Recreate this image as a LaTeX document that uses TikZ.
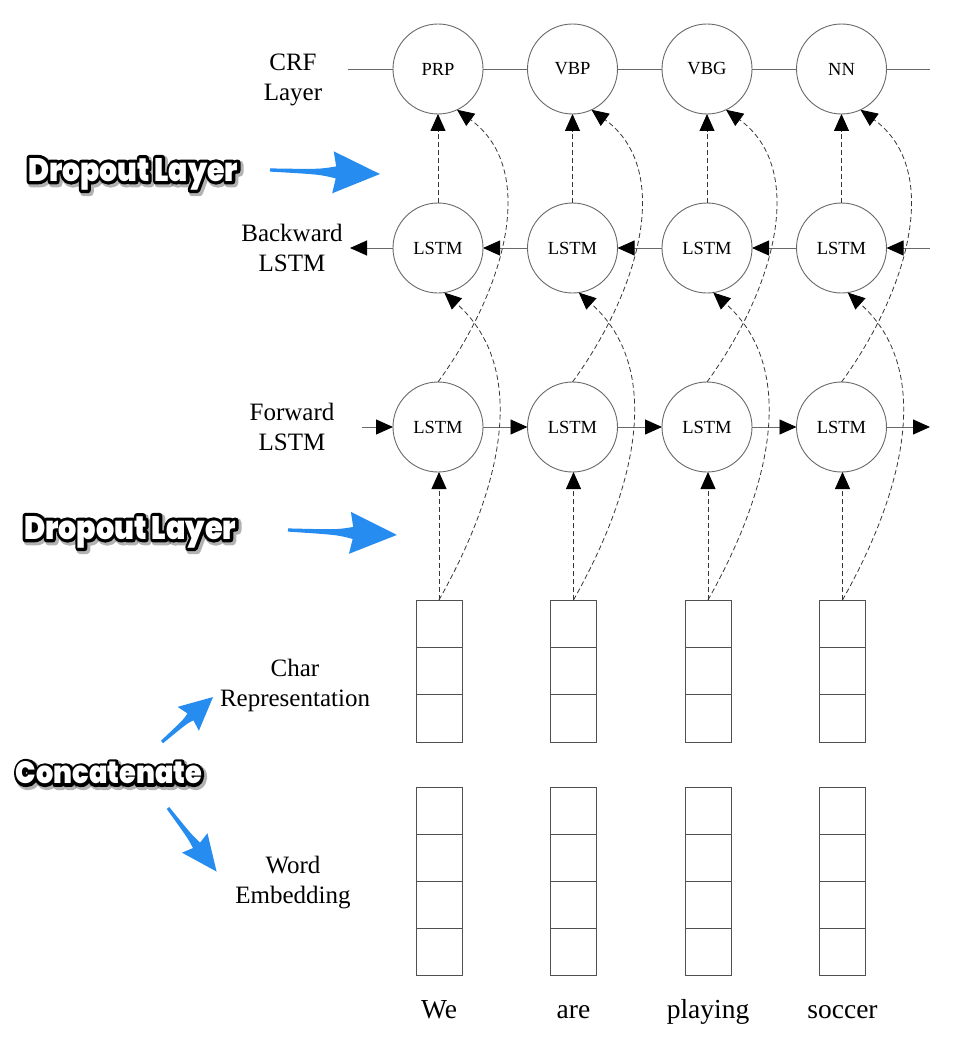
\documentclass[tikz,border=0pt]{standalone}
\usepackage{fontspec}
\setmainfont{Liberation Serif}
\IfFontExistsTF{Poppins Black}{\newfontfamily\dropfont{Poppins Black}}{%
  \IfFontExistsTF{Poppins ExtraBold}{\newfontfamily\dropfont{Poppins ExtraBold}}{%
    \newfontfamily\dropfont{Poppins}[UprightFont=*-Bold]}}
\usetikzlibrary{arrows.meta,calc}
\definecolor{arrowblue}{RGB}{38,140,240}
\definecolor{linegray}{RGB}{105,105,105}
\definecolor{boxgray}{RGB}{80,80,80}
\definecolor{dashgray}{RGB}{55,55,55}
\newcommand\dstroke[4]{\resizebox{#1}{#2}{\special{pdf:literal direct 2 Tr #3 w 0 0 0 RG 1 j}#4\special{pdf:literal direct 0 Tr}}}
\newcommand\dfill[3]{\resizebox{#1}{#2}{#3}}
\tikzset{
  pics/barrow/.style n args={4}{code={
    \fill[arrowblue] (0,-1.6) .. controls ({#1*0.45},-2.6) .. ({#1-#2},-#4) -- ({#1-#2-3},-#3) -- (#1,0) -- ({#1-#2-3},#3) -- ({#1-#2},#4) .. controls ({#1*0.45},2.6) .. (0,1.6) -- cycle;
  }},
}
\begin{document}
\begin{tikzpicture}[x=1pt,y=-1pt,
  every node/.style={inner sep=0pt,outer sep=0pt},
  cell/.style={draw=linegray,line width=0.9pt,circle,minimum size=90pt,font=\fontsize{18.5}{20}\selectfont},
  lab/.style={align=center,font=\fontsize{25}{30}\selectfont},
  word/.style={font=\fontsize{27.5}{30}\selectfont},
  vecbox/.style={draw=boxgray,line width=0.9pt,minimum width=46pt},
  boxline/.style={draw=boxgray,line width=0.9pt},
  conn/.style={draw=linegray,line width=0.9pt},
  dsh/.style={draw=dashgray,line width=0.8pt,dash pattern=on 5pt off 3pt},
  tip/.style={-{Triangle[length=17pt,width=15pt,black]}},
  dropshadow/.style={font=\dropfont\fontsize{30}{32}\selectfont,text=black,text opacity=0.3},
  dropout/.style={font=\dropfont\fontsize{30}{32}\selectfont,text=black},
  dropin/.style={font=\dropfont\fontsize{30}{32}\selectfont,text=white}
]
\fill[white] (0,0) rectangle (956,1054);
\useasboundingbox (0,0) rectangle (956,1054);

% layer labels
\node[lab] (lcrf) at (293,80) {CRF\\Layer};
\node[lab] (lbw) at (292,248) {Backward\\LSTM};
\node[lab] (lfw) at (292,427) {Forward\\LSTM};
\node[lab] (lch) at (295,685) {Char\\Representation};
\node[lab] (lwe) at (293,883) {Word\\Embedding};

% columns
\foreach \i/\x/\t/\w in {1/438/PRP/We,2/572.5/VBP/are,3/707/VBG/playing,4/841.5/NN/soccer}{
  \node[cell] (crf\i) at (\x,69) {\t};
  \node[cell] (bw\i) at (\x,248) {LSTM};
  \node[cell] (fw\i) at (\x,427) {LSTM};
  \node[vecbox,minimum height=142pt] (ch\i) at (\x+1,671) {};
  \node[vecbox,minimum height=188pt] (we\i) at (\x+1,881) {};
  \node[word,anchor=base] (wd\i) at (\x+1,1018) {\w};
}

% cell separators
\foreach \i in {1,...,4}{
  \foreach \f in {1/3,2/3}{
    \draw[boxline] ($(ch\i.north west)!\f!(ch\i.south west)$) -- ($(ch\i.north east)!\f!(ch\i.south east)$);
  }
  \foreach \f in {0.25,0.5,0.75}{
    \draw[boxline] ($(we\i.north west)!\f!(we\i.south west)$) -- ($(we\i.north east)!\f!(we\i.south east)$);
  }
}

% horizontal chains
\coordinate (crfL) at (348,69);
\coordinate (crfR) at (930,69);
\coordinate (bwR) at (930,248);
\coordinate (bwL) at (350,248);
\coordinate (fwL) at (362,427);
\coordinate (fwR) at (930,427);

\draw[conn] (crfL) -- (crf1) (crf1) -- (crf2) (crf2) -- (crf3) (crf3) -- (crf4) (crf4) -- (crfR);
\draw[conn,tip] (bwR) -- (bw4);
\draw[conn,tip] (bw4) -- (bw3);
\draw[conn,tip] (bw3) -- (bw2);
\draw[conn,tip] (bw2) -- (bw1);
\draw[conn,tip] (bw1) -- (bwL);
\draw[conn,tip] (fwL) -- (fw1);
\draw[conn,tip] (fw1) -- (fw2);
\draw[conn,tip] (fw2) -- (fw3);
\draw[conn,tip] (fw3) -- (fw4);
\draw[conn,tip] (fw4) -- (fwR);

% dashed connections
\foreach \i in {1,...,4}{
  \draw[dsh,tip] (bw\i) -- (crf\i);
  \draw[dsh,tip] (ch\i.north) -- (ch\i.north |- fw\i.south);
  \draw[dsh,tip] (fw\i.north) .. controls +(67,-92) and +(82,60) .. (crf\i.-65);
  \draw[dsh,tip] (ch\i.north) .. controls +(62,-110) and +(86,77) .. (bw\i.-82);
}

% annotations
\node[dropshadow] (dl1s) at (135,176) {\dstroke{210pt}{23pt}{8}{Dropout Layer}};
\node[dropout] (dl1o) at (133,174) {\dstroke{210pt}{23pt}{6}{Dropout Layer}};
\node[dropin] (dl1) at (133,174) {\dfill{210pt}{23pt}{Dropout Layer}};
\node[dropshadow] (dl2s) at (132,534) {\dstroke{212pt}{23pt}{8}{Dropout Layer}};
\node[dropout] (dl2o) at (130,532) {\dstroke{212pt}{23pt}{6}{Dropout Layer}};
\node[dropin] (dl2) at (130,532) {\dfill{212pt}{23pt}{Dropout Layer}};
\node[dropshadow] (ccs) at (111,775) {\dstroke{186pt}{22pt}{8}{Concatenate}};
\node[dropout] (cco) at (109,773) {\dstroke{186pt}{22pt}{6}{Concatenate}};
\node[dropin] (cc) at (109,773) {\dfill{186pt}{22pt}{Concatenate}};
\pic[rotate=-2.1] (ba1) at (270,170) {barrow={110}{44}{21}{6}};
\pic[rotate=-2.6] (ba2) at (288,530) {barrow={109}{44}{21}{6}};
\pic[rotate=41.4] (ba3) at (162,742) {barrow={68}{30}{16}{4.5}};
\pic[rotate=-52.6] (ba4) at (168,808) {barrow={80}{33}{16}{4.5}};
\end{tikzpicture}
\end{document}
